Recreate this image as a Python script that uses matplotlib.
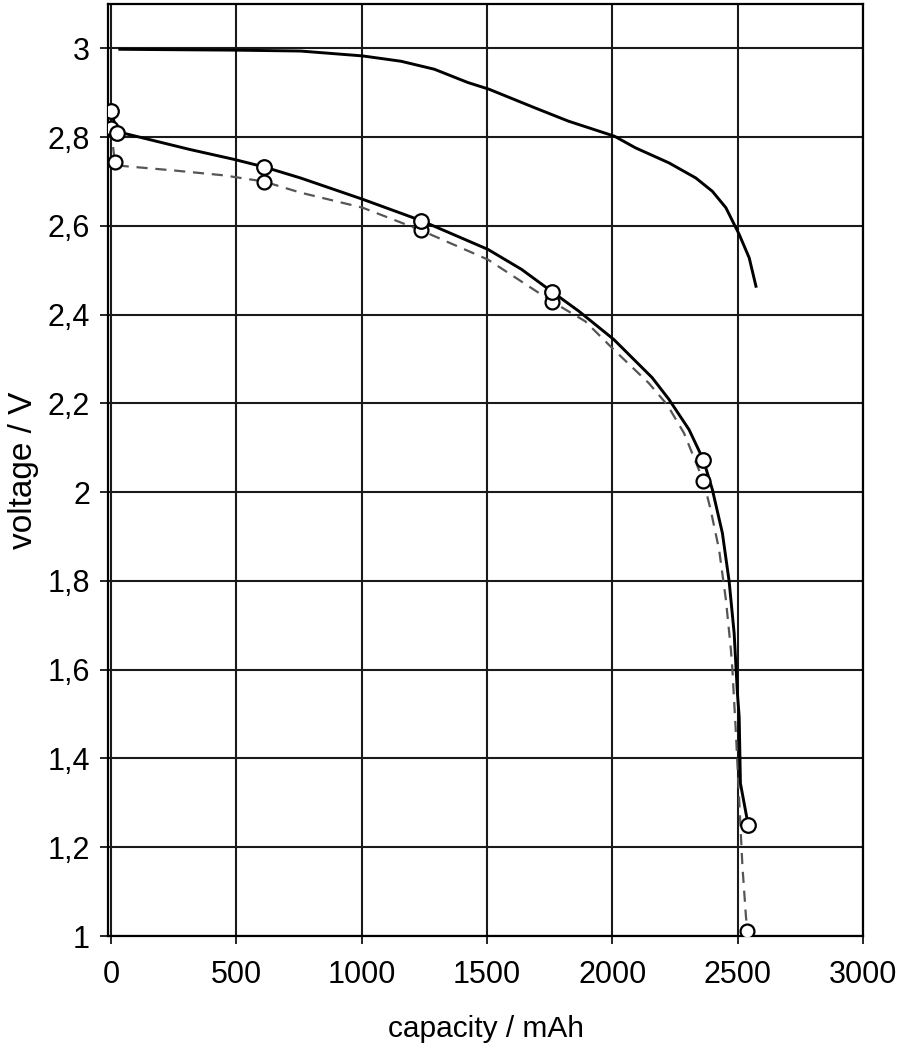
"""
Discharge curves: voltage vs capacity
"""

import matplotlib
matplotlib.use('Agg')
import matplotlib.pyplot as plt
from matplotlib.ticker import FuncFormatter

plt.rcParams['font.family'] = ['Liberation Sans', 'DejaVu Sans']

# Upper curve (no markers)
top_cap = [35, 250, 500, 756, 1004, 1157, 1290, 1424, 1508, 1691, 1825, 2009,
           2092, 2226, 2333, 2399, 2453, 2506, 2546, 2573]
top_volt = [2.998, 2.997, 2.996, 2.994, 2.983, 2.971, 2.953, 2.923, 2.908, 2.866,
            2.836, 2.802, 2.776, 2.742, 2.708, 2.678, 2.641, 2.581, 2.528, 2.464]

# Lower solid curve
solid_cap = [0, 25, 42, 316, 490, 610, 756, 1004, 1237, 1504, 1638, 1761, 1866,
             1958, 2006, 2159, 2226, 2306, 2363, 2399, 2439, 2466, 2486, 2499,
             2506, 2511, 2542]
solid_volt = [2.86, 2.81, 2.810, 2.772, 2.750, 2.733, 2.708, 2.660, 2.612, 2.547,
              2.502, 2.451, 2.408, 2.366, 2.344, 2.258, 2.209, 2.141, 2.073, 2.006,
              1.908, 1.799, 1.682, 1.547, 1.494, 1.344, 1.250]
solid_mark_cap = [0, 25, 610, 1237, 1761, 2363, 2542]
solid_mark_volt = [2.86, 2.81, 2.733, 2.612, 2.451, 2.073, 1.250]

# Lower dashed curve
dash_cap = [0, 15, 48, 249, 449, 610, 756, 1004, 1237, 1504, 1761, 1892, 2006,
            2145, 2219, 2286, 2363, 2392, 2426, 2453, 2473, 2479, 2493, 2506,
            2519, 2533, 2539]
dash_volt = [2.82, 2.744, 2.735, 2.725, 2.714, 2.700, 2.675, 2.641, 2.590, 2.524,
             2.429, 2.385, 2.321, 2.246, 2.197, 2.133, 2.026, 1.961, 1.870, 1.758,
             1.645, 1.600, 1.457, 1.307, 1.157, 1.044, 1.011]
dash_mark_cap = [0, 15, 610, 1237, 1761, 2363, 2539]
dash_mark_volt = [2.82, 2.744, 2.700, 2.590, 2.429, 2.026, 1.011]

x_ticks = [0, 500, 1000, 1500, 2000, 2500, 3000]
y_ticks = [1, 1.2, 1.4, 1.6, 1.8, 2, 2.2, 2.4, 2.6, 2.8, 3]

fig = plt.figure(figsize=(9, 10.5), dpi=100)
ax = fig.add_axes([108 / 900, 1 - 936 / 1050, 755 / 900, 932 / 1050])

# Grid
ax.set_xticks(x_ticks)
ax.set_yticks(y_ticks)
ax.grid(True, color='#1a1a1a', linewidth=1.5)
ax.set_axisbelow(True)

ax.plot(top_cap, top_volt, color='black', linewidth=2.1, zorder=3)
ax.plot(dash_cap, dash_volt, color='#555555', linewidth=1.6, linestyle=(0, (5, 3.5)), zorder=3)
ax.plot(solid_cap, solid_volt, color='black', linewidth=2.1, zorder=4)

ax.plot(dash_mark_cap, dash_mark_volt, linestyle='none', marker='o', markersize=10,
        markerfacecolor='white', markeredgecolor='black', markeredgewidth=1.6, zorder=5)
ax.plot(solid_mark_cap, solid_mark_volt, linestyle='none', marker='o', markersize=10.5,
        markerfacecolor='white', markeredgecolor='black', markeredgewidth=1.6, zorder=5)

ax.set_xlim(-12, 3000)
ax.set_ylim(1, 3.1)

ax.yaxis.set_major_formatter(FuncFormatter(lambda v, p: f'{v:g}'.replace('.', ',')))

ax.tick_params(direction='out', length=6, width=1.2, labelsize=22, color='black')
ax.tick_params(axis='y', pad=7)
ax.tick_params(axis='x', pad=11)

for spine in ax.spines.values():
    spine.set_linewidth(1.6)
    spine.set_color('black')

ax.set_xlabel('capacity / mAh', fontsize=21.5, labelpad=18)
ax.set_ylabel('voltage / V', fontsize=24, labelpad=6)

fig.savefig('out.png', dpi=100, facecolor='white')
